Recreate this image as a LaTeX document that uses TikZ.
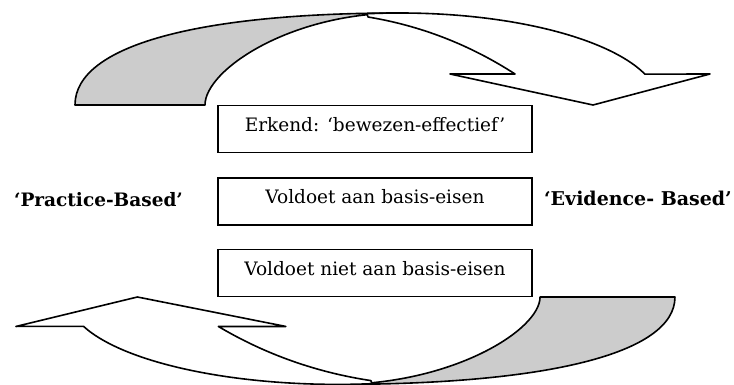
\documentclass[tikz,border=0pt]{standalone}
\usepackage{fontspec}
\setmainfont{DejaVu Serif}
\definecolor{backgray}{HTML}{CCCCCC}
\newcommand\mycurvedarrow{%
  % back (gray) part
  \path[arrowline, fill=backgray] (75,105)
    .. controls (75,45) and (200,13) .. (400,13)
    .. controls (290,13) and (205,70) .. (205,105) -- cycle;
  % front (white) part with arrow head
  \path[arrowline, fill=white] (367,13.75)
    arc[start angle=262.7, end angle=340.4, x radius=260, y radius=92]
    -- (710,74) -- (593,105) -- (450,74) -- (515,74)
    .. controls (469.7,44.7) and (420.7,25.7) .. (368,17) -- cycle;
}
\begin{document}
\begin{tikzpicture}[x=1pt, y=-1pt,
  arrowline/.style={draw=black, line width=1.6pt, line join=round},
  levelbox/.style={draw=black, line width=1.5pt, fill=white,
    minimum width=314pt, minimum height=47pt, inner sep=0pt,
    font=\fontsize{18.5}{22}\selectfont, text height=0.75em, text depth=0.25em},
  sidelabel/.style={font=\fontsize{18.5}{22}\selectfont\bfseries, inner sep=0pt, anchor=base}]
\useasboundingbox[fill=white] (0,0) rectangle (734,385);
\begin{scope}
  \clip (0,0) rectangle (734,385);
  \mycurvedarrow
  \begin{scope}[shift={(752.8,396.75)}, xscale=-1.0378, yscale=-0.95]
    \mycurvedarrow
  \end{scope}
\end{scope}
\node[levelbox] (top) at (375,129) {Erkend: ‘bewezen-effectief’};
\node[levelbox] (mid) at (375,201.5) {Voldoet aan basis-eisen};
\node[levelbox] (bot) at (375,273) {Voldoet niet aan basis-eisen};
\node[sidelabel] (pb) at (98.5,207) {‘Practice-Based’};
\node[sidelabel, font=\fontsize{19}{22}\selectfont\bfseries] (eb) at (638,206) {‘Evidence- Based’};
\end{tikzpicture}
\end{document}
